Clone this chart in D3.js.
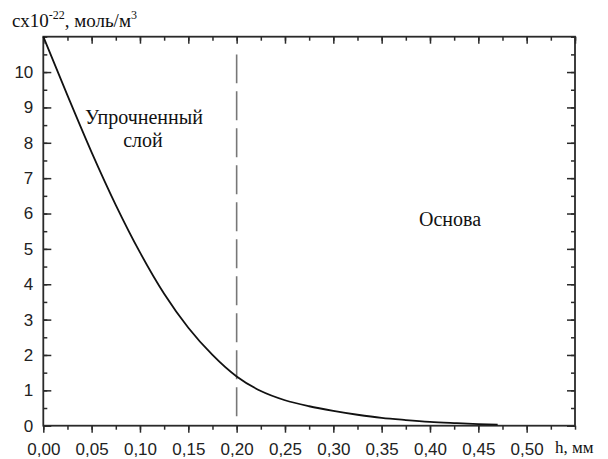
<!DOCTYPE html>
<html><head><meta charset="utf-8">
<script src="https://cdn.jsdelivr.net/npm/d3@7"></script>
<style>body{margin:0;background:#fff}svg{display:block}</style>
</head><body>
<svg id="c" width="608" height="459"></svg>
<script>
const hValues = [0, 0.025, 0.05, 0.075, 0.1, 0.125, 0.15, 0.175, 0.2, 0.225, 0.25, 0.275, 0.3, 0.325, 0.35, 0.375, 0.4, 0.425, 0.45, 0.47];
const cValues = [11.0, 9.34, 7.73, 6.24, 4.9, 3.73, 2.77, 2.0, 1.39, 0.98, 0.72, 0.55, 0.42, 0.31, 0.22, 0.16, 0.11, 0.075, 0.045, 0.03];
const xTicks = [0, 0.05, 0.1, 0.15, 0.2, 0.25, 0.3, 0.35, 0.4, 0.45, 0.5];
const xTickLabels = ["0,00","0,05","0,10","0,15","0,20","0,25","0,30","0,35","0,40","0,45","0,50"];
const yTicks = [0,1,2,3,4,5,6,7,8,9,10];
const boundaryH = [0.2];
const boundaryC = [0.27, 10.5];

const svg = d3.select("#c");
const L = 43.3, R = 575, T = 36.7, B = 425.7;
const x = d3.scaleLinear().domain([0, 0.55]).range([L, R]);
const y = d3.scaleLinear().domain([0, 11]).range([B, T]);
const axisColor = "#2a2a2a";
const sans = "'Liberation Sans', Arial, sans-serif";
const serif = "'Liberation Serif', 'Times New Roman', serif";

function styleAxis(g){
  g.select(".domain").remove();
  g.selectAll("line").attr("stroke", axisColor).attr("stroke-width", 1.5);
  g.selectAll("text").attr("font-family", sans).attr("font-size", 17).attr("fill", "#222");
}
const xMinor = d3.range(0, 0.551, 0.025);
const yMinor = d3.range(0, 11.01, 0.5);

// bottom axis (ticks outward)
svg.append("g").attr("transform", `translate(0,${B})`)
  .call(d3.axisBottom(x).tickValues(xMinor).tickSize(4).tickFormat(""))
  .call(styleAxis);
svg.append("g").attr("transform", `translate(0,${B})`)
  .call(d3.axisBottom(x).tickValues(xTicks).tickSize(7).tickPadding(10)
    .tickFormat((d,i)=>xTickLabels[i]))
  .call(styleAxis);
// top axis (inward)
svg.append("g").attr("transform", `translate(0,${T})`)
  .call(d3.axisBottom(x).tickValues(xMinor).tickSize(4).tickFormat(""))
  .call(styleAxis);
svg.append("g").attr("transform", `translate(0,${T})`)
  .call(d3.axisBottom(x).tickValues(xTicks.concat([0.55])).tickSize(7).tickFormat(""))
  .call(styleAxis);
// left axis (inward ticks)
svg.append("g").attr("transform", `translate(${L},0)`)
  .call(d3.axisRight(y).tickValues(yMinor).tickSize(4).tickFormat(""))
  .call(styleAxis);
const ly = svg.append("g").attr("transform", `translate(${L},0)`)
  .call(d3.axisRight(y).tickValues(yTicks).tickSize(8).tickFormat(d3.format("d")))
  .call(styleAxis);
ly.selectAll("text").attr("x", -10).attr("text-anchor", "end");
// right axis (inward)
svg.append("g").attr("transform", `translate(${R},0)`)
  .call(d3.axisLeft(y).tickValues(yMinor).tickSize(4).tickFormat(""))
  .call(styleAxis);
svg.append("g").attr("transform", `translate(${R},0)`)
  .call(d3.axisLeft(y).tickValues(yTicks).tickSize(8).tickFormat(""))
  .call(styleAxis);

// frame
svg.append("rect").attr("x", L).attr("y", T).attr("width", R-L).attr("height", B-T)
  .attr("fill", "none").attr("stroke", axisColor).attr("stroke-width", 1.8);

// dashed boundary (drawn bottom-up so the dashes end cleanly)
svg.append("line")
  .attr("x1", x(boundaryH[0])).attr("x2", x(boundaryH[0]))
  .attr("y1", y(boundaryC[0])).attr("y2", y(boundaryC[1]))
  .attr("stroke", "#777").attr("stroke-width", 1.6).attr("stroke-dasharray", "29,8");

// curve
const pts = hValues.map((h,i)=>[h, cValues[i]]);
svg.append("path").datum(pts)
  .attr("d", d3.line().x(d=>x(d[0])).y(d=>y(d[1])).curve(d3.curveMonotoneX))
  .attr("fill", "none").attr("stroke", "#111").attr("stroke-width", 1.8);

// labels
const t1 = svg.append("text").attr("font-family", serif).attr("font-size", 20).attr("fill", "#111")
  .attr("text-anchor", "middle");
t1.append("tspan").attr("x", 144).attr("y", 124).text("Упрочненный");
t1.append("tspan").attr("x", 143).attr("y", 147).text("слой");
svg.append("text").attr("font-family", serif).attr("font-size", 20).attr("fill", "#111")
  .attr("text-anchor", "middle").attr("x", 450).attr("y", 226).text("Основа");

svg.append("text").attr("font-family", serif).attr("font-size", 17).attr("fill", "#111")
  .attr("x", 555).attr("y", 453).text("h, мм");

const yt = svg.append("text").attr("font-family", serif).attr("font-size", 19).attr("fill", "#111")
  .attr("x", 12).attr("y", 27);
yt.append("tspan").text("сх10");
yt.append("tspan").attr("dy", -8).attr("font-size", 12).text("-22");
yt.append("tspan").attr("dy", 8).text(", моль/м");
yt.append("tspan").attr("dy", -8).attr("font-size", 12).text("3");
</script>
</body></html>
